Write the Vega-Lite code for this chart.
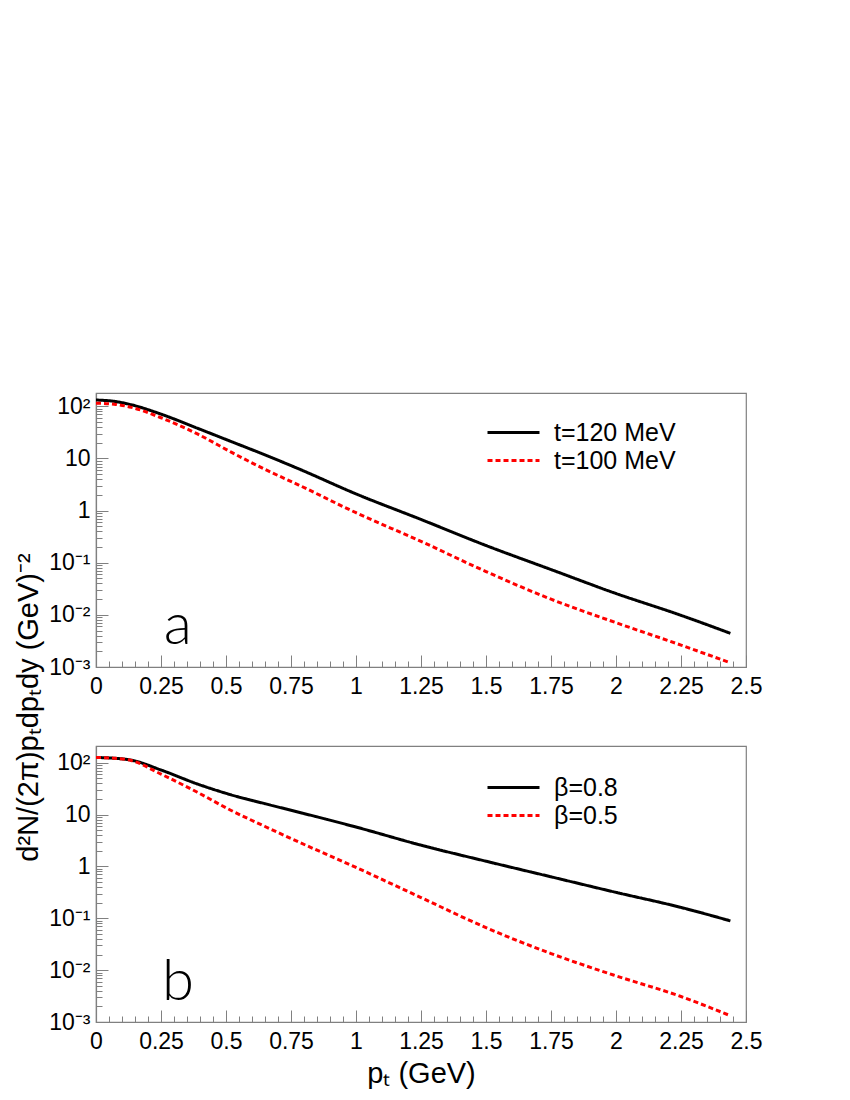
{
  "$schema": "https://vega.github.io/schema/vega-lite/v6.json",
  "background": "white",
  "padding": {"left": 13, "top": 392, "right": 5, "bottom": 5},
  "config": {
    "view": {"stroke": "#808080", "strokeWidth": 1.2},
    "font": "Liberation Sans",
    "axis": {
      "grid": false,
      "domainColor": "#808080",
      "domainWidth": 1.2,
      "tickColor": "#808080",
      "tickWidth": 1,
      "labelColor": "black",
      "labelFont": "Liberation Sans",
      "labelFontSize": 23,
      "labelOverlap": false,
      "labelFlush": false,
      "titleFont": "Liberation Sans",
      "titleFontSize": 29,
      "titleFontWeight": "normal",
      "titleColor": "black"
    },
    "legend": {
      "orient": "none",
      "symbolType": "M-2,0H2",
      "symbolSize": 676,
      "symbolStrokeWidth": 3,
      "labelFont": "Liberation Sans",
      "labelFontSize": 25,
      "labelColor": "black",
      "labelOffset": 26,
      "rowPadding": -11
    }
  },
  "datasets": {
    "curves": [
      {"panel": "a", "series": "t=120 MeV", "pt": 0, "val": 132},
      {"panel": "a", "series": "t=120 MeV", "pt": 0.07, "val": 124.5},
      {"panel": "a", "series": "t=120 MeV", "pt": 0.136, "val": 107},
      {"panel": "a", "series": "t=120 MeV", "pt": 0.25, "val": 70.8},
      {"panel": "a", "series": "t=120 MeV", "pt": 0.39, "val": 38.0},
      {"panel": "a", "series": "t=120 MeV", "pt": 0.52, "val": 21.1},
      {"panel": "a", "series": "t=120 MeV", "pt": 0.65, "val": 11.7},
      {"panel": "a", "series": "t=120 MeV", "pt": 0.78, "val": 6.31},
      {"panel": "a", "series": "t=120 MeV", "pt": 1.0, "val": 2.09},
      {"panel": "a", "series": "t=120 MeV", "pt": 1.25, "val": 0.676},
      {"panel": "a", "series": "t=120 MeV", "pt": 1.5, "val": 0.214},
      {"panel": "a", "series": "t=120 MeV", "pt": 1.75, "val": 0.074},
      {"panel": "a", "series": "t=120 MeV", "pt": 2.0, "val": 0.0257},
      {"panel": "a", "series": "t=120 MeV", "pt": 2.25, "val": 0.0098},
      {"panel": "a", "series": "t=120 MeV", "pt": 2.44, "val": 0.00442},
      {"panel": "a", "series": "t=100 MeV", "pt": 0, "val": 115},
      {"panel": "a", "series": "t=100 MeV", "pt": 0.07, "val": 110},
      {"panel": "a", "series": "t=100 MeV", "pt": 0.136, "val": 95.5},
      {"panel": "a", "series": "t=100 MeV", "pt": 0.25, "val": 60.3},
      {"panel": "a", "series": "t=100 MeV", "pt": 0.39, "val": 29.5},
      {"panel": "a", "series": "t=100 MeV", "pt": 0.52, "val": 13.2},
      {"panel": "a", "series": "t=100 MeV", "pt": 0.65, "val": 6.17},
      {"panel": "a", "series": "t=100 MeV", "pt": 0.78, "val": 3.09},
      {"panel": "a", "series": "t=100 MeV", "pt": 1.0, "val": 0.91},
      {"panel": "a", "series": "t=100 MeV", "pt": 1.25, "val": 0.257},
      {"panel": "a", "series": "t=100 MeV", "pt": 1.5, "val": 0.0676},
      {"panel": "a", "series": "t=100 MeV", "pt": 1.75, "val": 0.02},
      {"panel": "a", "series": "t=100 MeV", "pt": 2.0, "val": 0.00708},
      {"panel": "a", "series": "t=100 MeV", "pt": 2.25, "val": 0.00263},
      {"panel": "a", "series": "t=100 MeV", "pt": 2.44, "val": 0.0012},
      {"panel": "b", "series": "β=0.8", "pt": 0, "val": 126},
      {"panel": "b", "series": "β=0.8", "pt": 0.07, "val": 122},
      {"panel": "b", "series": "β=0.8", "pt": 0.136, "val": 112},
      {"panel": "b", "series": "β=0.8", "pt": 0.25, "val": 72.4},
      {"panel": "b", "series": "β=0.8", "pt": 0.39, "val": 38.9},
      {"panel": "b", "series": "β=0.8", "pt": 0.52, "val": 24.0},
      {"panel": "b", "series": "β=0.8", "pt": 0.65, "val": 16.2},
      {"panel": "b", "series": "β=0.8", "pt": 0.78, "val": 11.1},
      {"panel": "b", "series": "β=0.8", "pt": 1.0, "val": 5.75},
      {"panel": "b", "series": "β=0.8", "pt": 1.25, "val": 2.57},
      {"panel": "b", "series": "β=0.8", "pt": 1.5, "val": 1.26},
      {"panel": "b", "series": "β=0.8", "pt": 1.75, "val": 0.631},
      {"panel": "b", "series": "β=0.8", "pt": 2.0, "val": 0.316},
      {"panel": "b", "series": "β=0.8", "pt": 2.25, "val": 0.162},
      {"panel": "b", "series": "β=0.8", "pt": 2.44, "val": 0.0891},
      {"panel": "b", "series": "β=0.5", "pt": 0, "val": 126},
      {"panel": "b", "series": "β=0.5", "pt": 0.07, "val": 122},
      {"panel": "b", "series": "β=0.5", "pt": 0.136, "val": 110},
      {"panel": "b", "series": "β=0.5", "pt": 0.25, "val": 60.3},
      {"panel": "b", "series": "β=0.5", "pt": 0.39, "val": 26.9},
      {"panel": "b", "series": "β=0.5", "pt": 0.52, "val": 12.0},
      {"panel": "b", "series": "β=0.5", "pt": 0.65, "val": 5.89},
      {"panel": "b", "series": "β=0.5", "pt": 0.78, "val": 2.95},
      {"panel": "b", "series": "β=0.5", "pt": 1.0, "val": 0.955},
      {"panel": "b", "series": "β=0.5", "pt": 1.25, "val": 0.251},
      {"panel": "b", "series": "β=0.5", "pt": 1.5, "val": 0.066},
      {"panel": "b", "series": "β=0.5", "pt": 1.75, "val": 0.0209},
      {"panel": "b", "series": "β=0.5", "pt": 2.0, "val": 0.00776},
      {"panel": "b", "series": "β=0.5", "pt": 2.25, "val": 0.0031},
      {"panel": "b", "series": "β=0.5", "pt": 2.44, "val": 0.00132}
    ]
  },
  "spacing": 79,
  "bounds": "flush",
  "resolve": {"scale": {"color": "independent", "strokeDash": "independent", "y": "independent", "x": "independent"}},
  "vconcat": [
    {
      "width": 650,
      "height": 274,
      "layer": [
        {
          "data": {"name": "curves"},
          "transform": [{"filter": "datum.panel == 'a'"}],
          "mark": {"type": "line", "strokeWidth": 3, "interpolate": "monotone", "clip": true},
          "encoding": {
            "x": {
              "field": "pt", "type": "quantitative",
              "scale": {"domain": [0, 2.5], "nice": false, "zero": false},
              "axis": {
                "title": null,
                "values": [0,0.05,0.1,0.15,0.2,0.25,0.3,0.35,0.4,0.45,0.5,0.55,0.6,0.65,0.7,0.75,0.8,0.85,0.9,0.95,1,1.05,1.1,1.15,1.2,1.25,1.3,1.35,1.4,1.45,1.5,1.55,1.6,1.65,1.7,1.75,1.8,1.85,1.9,1.95,2,2.05,2.1,2.15,2.2,2.25,2.3,2.35,2.4,2.45,2.5],
                "labelExpr": "abs(datum.value*4 - round(datum.value*4)) < 0.001 ? format(datum.value, '~g') : ''",
                "tickSize": {"condition": {"test": "abs(datum.value*4 - round(datum.value*4)) < 0.001", "value": -12}, "value": -6},
                "labelPadding": 20
              }
            },
            "y": {
              "field": "val", "type": "quantitative",
              "scale": {"type": "log", "domain": [0.001, 180], "nice": false},
              "axis": {
                "title": "d²N/(2π)pₜdpₜdy  (GeV)⁻²",
                "titleX": -68,
                "titleY": 314,
                "titleAngle": -90,
                "titleAlign": "center",
                "titleBaseline": "middle",
                "values": [0.001,0.002,0.003,0.004,0.005,0.006,0.007,0.008,0.009,0.01,0.02,0.03,0.04,0.05,0.06,0.07,0.08,0.09,0.1,0.2,0.3,0.4,0.5,0.6,0.7,0.8,0.9,1,2,3,4,5,6,7,8,9,10,20,30,40,50,60,70,80,90,100],
                "labelExpr": "datum.value == 100 ? '10²' : datum.value == 10 ? '10' : datum.value == 1 ? '1' : datum.value == 0.1 ? '10⁻¹' : datum.value == 0.01 ? '10⁻²' : datum.value == 0.001 ? '10⁻³' : ''",
                "tickSize": {"condition": {"test": "abs(log(datum.value)/LN10 - round(log(datum.value)/LN10)) < 0.001", "value": -12}, "value": -6},
                "labelPadding": 18
              }
            },
            "color": {
              "field": "series", "type": "nominal",
              "scale": {"domain": ["t=120 MeV", "t=100 MeV"], "range": ["#000000", "#ff0000"]},
              "legend": {"title": null, "legendX": 403, "legendY": 25}
            },
            "strokeDash": {
              "field": "series", "type": "nominal",
              "scale": {"domain": ["t=120 MeV", "t=100 MeV"], "range": [[1, 0], [5, 3]]},
              "legend": {"title": null, "legendX": 403, "legendY": 25}
            }
          }
        },
        {
          "data": {"values": [{"label": "a"}]},
          "mark": {"type": "text", "font": "Lato", "fontWeight": 300, "fontSize": 58, "align": "center", "baseline": "alphabetic"},
          "encoding": {
            "x": {
              "datum": 0.315, "type": "quantitative",
              "axis": {
                "title": null,
                "values": [0,0.05,0.1,0.15,0.2,0.25,0.3,0.35,0.4,0.45,0.5,0.55,0.6,0.65,0.7,0.75,0.8,0.85,0.9,0.95,1,1.05,1.1,1.15,1.2,1.25,1.3,1.35,1.4,1.45,1.5,1.55,1.6,1.65,1.7,1.75,1.8,1.85,1.9,1.95,2,2.05,2.1,2.15,2.2,2.25,2.3,2.35,2.4,2.45,2.5],
                "labelExpr": "abs(datum.value*4 - round(datum.value*4)) < 0.001 ? format(datum.value, '~g') : ''",
                "tickSize": {"condition": {"test": "abs(datum.value*4 - round(datum.value*4)) < 0.001", "value": -12}, "value": -6},
                "labelPadding": 20
              }
            },
            "y": {
              "datum": 0.0028, "type": "quantitative",
              "axis": {
                "title": "d²N/(2π)pₜdpₜdy  (GeV)⁻²",
                "titleX": -68,
                "titleY": 314,
                "titleAngle": -90,
                "titleAlign": "center",
                "titleBaseline": "middle",
                "values": [0.001,0.002,0.003,0.004,0.005,0.006,0.007,0.008,0.009,0.01,0.02,0.03,0.04,0.05,0.06,0.07,0.08,0.09,0.1,0.2,0.3,0.4,0.5,0.6,0.7,0.8,0.9,1,2,3,4,5,6,7,8,9,10,20,30,40,50,60,70,80,90,100],
                "labelExpr": "datum.value == 100 ? '10²' : datum.value == 10 ? '10' : datum.value == 1 ? '1' : datum.value == 0.1 ? '10⁻¹' : datum.value == 0.01 ? '10⁻²' : datum.value == 0.001 ? '10⁻³' : ''",
                "tickSize": {"condition": {"test": "abs(log(datum.value)/LN10 - round(log(datum.value)/LN10)) < 0.001", "value": -12}, "value": -6},
                "labelPadding": 18
              }
            },
            "text": {"field": "label"}
          }
        }
      ]
    },
    {
      "width": 650,
      "height": 276,
      "layer": [
        {
          "data": {"name": "curves"},
          "transform": [{"filter": "datum.panel == 'b'"}],
          "mark": {"type": "line", "strokeWidth": 3, "interpolate": "monotone", "clip": true},
          "encoding": {
            "x": {
              "field": "pt", "type": "quantitative",
              "scale": {"domain": [0, 2.5], "nice": false, "zero": false},
              "axis": {
                "title": "pₜ (GeV)",
                "values": [0,0.05,0.1,0.15,0.2,0.25,0.3,0.35,0.4,0.45,0.5,0.55,0.6,0.65,0.7,0.75,0.8,0.85,0.9,0.95,1,1.05,1.1,1.15,1.2,1.25,1.3,1.35,1.4,1.45,1.5,1.55,1.6,1.65,1.7,1.75,1.8,1.85,1.9,1.95,2,2.05,2.1,2.15,2.2,2.25,2.3,2.35,2.4,2.45,2.5],
                "labelExpr": "abs(datum.value*4 - round(datum.value*4)) < 0.001 ? format(datum.value, '~g') : ''",
                "tickSize": {"condition": {"test": "abs(datum.value*4 - round(datum.value*4)) < 0.001", "value": -12}, "value": -6},
                "labelPadding": 20,
                "titlePadding": 0
              }
            },
            "y": {
              "field": "val", "type": "quantitative",
              "scale": {"type": "log", "domain": [0.001, 210], "nice": false},
              "axis": {
                "title": null,
                "values": [0.001,0.002,0.003,0.004,0.005,0.006,0.007,0.008,0.009,0.01,0.02,0.03,0.04,0.05,0.06,0.07,0.08,0.09,0.1,0.2,0.3,0.4,0.5,0.6,0.7,0.8,0.9,1,2,3,4,5,6,7,8,9,10,20,30,40,50,60,70,80,90,100],
                "labelExpr": "datum.value == 100 ? '10²' : datum.value == 10 ? '10' : datum.value == 1 ? '1' : datum.value == 0.1 ? '10⁻¹' : datum.value == 0.01 ? '10⁻²' : datum.value == 0.001 ? '10⁻³' : ''",
                "tickSize": {"condition": {"test": "abs(log(datum.value)/LN10 - round(log(datum.value)/LN10)) < 0.001", "value": -12}, "value": -6},
                "labelPadding": 18
              }
            },
            "color": {
              "field": "series", "type": "nominal",
              "scale": {"domain": ["β=0.8", "β=0.5"], "range": ["#000000", "#ff0000"]},
              "legend": {"title": null, "legendX": 403, "legendY": 27}
            },
            "strokeDash": {
              "field": "series", "type": "nominal",
              "scale": {"domain": ["β=0.8", "β=0.5"], "range": [[1, 0], [5, 3]]},
              "legend": {"title": null, "legendX": 403, "legendY": 27}
            }
          }
        },
        {
          "data": {"values": [{"label": "b"}]},
          "mark": {"type": "text", "font": "Lato", "fontWeight": 300, "fontSize": 58, "align": "center", "baseline": "alphabetic"},
          "encoding": {
            "x": {
              "datum": 0.315, "type": "quantitative",
              "axis": {
                "title": "pₜ (GeV)",
                "values": [0,0.05,0.1,0.15,0.2,0.25,0.3,0.35,0.4,0.45,0.5,0.55,0.6,0.65,0.7,0.75,0.8,0.85,0.9,0.95,1,1.05,1.1,1.15,1.2,1.25,1.3,1.35,1.4,1.45,1.5,1.55,1.6,1.65,1.7,1.75,1.8,1.85,1.9,1.95,2,2.05,2.1,2.15,2.2,2.25,2.3,2.35,2.4,2.45,2.5],
                "labelExpr": "abs(datum.value*4 - round(datum.value*4)) < 0.001 ? format(datum.value, '~g') : ''",
                "tickSize": {"condition": {"test": "abs(datum.value*4 - round(datum.value*4)) < 0.001", "value": -12}, "value": -6},
                "labelPadding": 20,
                "titlePadding": 0
              }
            },
            "y": {
              "datum": 0.0026, "type": "quantitative",
              "axis": {
                "title": null,
                "values": [0.001,0.002,0.003,0.004,0.005,0.006,0.007,0.008,0.009,0.01,0.02,0.03,0.04,0.05,0.06,0.07,0.08,0.09,0.1,0.2,0.3,0.4,0.5,0.6,0.7,0.8,0.9,1,2,3,4,5,6,7,8,9,10,20,30,40,50,60,70,80,90,100],
                "labelExpr": "datum.value == 100 ? '10²' : datum.value == 10 ? '10' : datum.value == 1 ? '1' : datum.value == 0.1 ? '10⁻¹' : datum.value == 0.01 ? '10⁻²' : datum.value == 0.001 ? '10⁻³' : ''",
                "tickSize": {"condition": {"test": "abs(log(datum.value)/LN10 - round(log(datum.value)/LN10)) < 0.001", "value": -12}, "value": -6},
                "labelPadding": 18
              }
            },
            "text": {"field": "label"}
          }
        }
      ]
    }
  ]
}
